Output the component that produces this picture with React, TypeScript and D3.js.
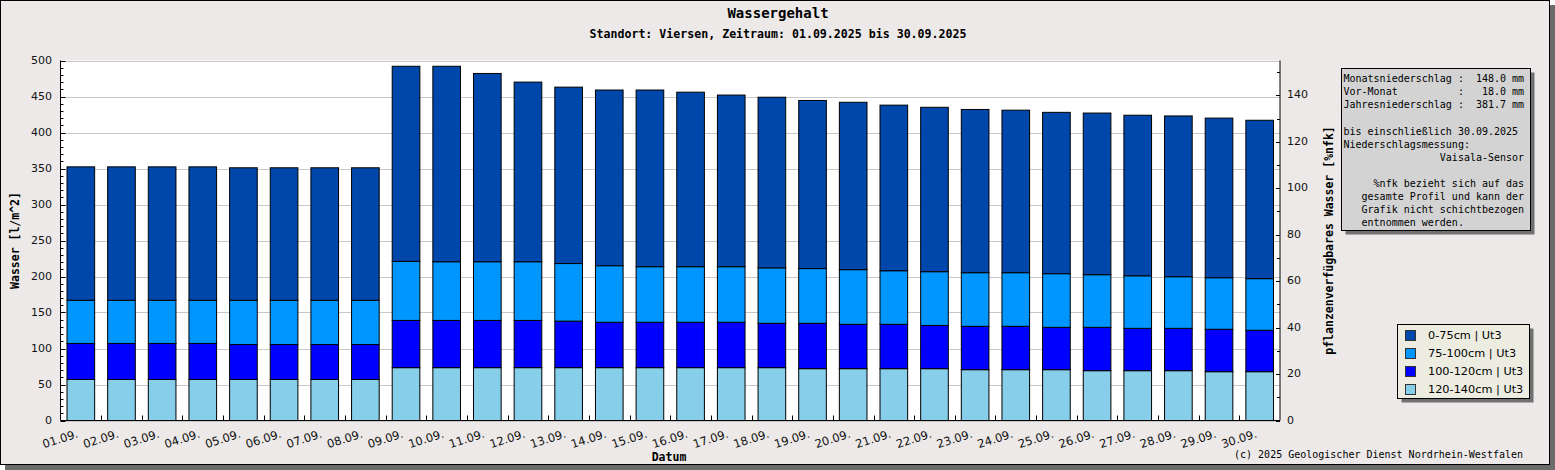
import React from 'react';
import * as d3 from 'd3';

// Tage im September 2025
const days = d3.range(1, 31).map(d => `${String(d).padStart(2, '0')}.09.`);

// Wassergehalt je Schicht in l/m^2
const layer0_75 = [
  185.3, 185.3, 185.3, 185.3, 184, 184, 184, 184, 271, 271.5,
  261.5, 249.5, 245, 244, 245.4, 242.4, 238.4, 237, 233.5, 232.5,
  230, 228.3, 226.7, 225.7, 224.1, 224.5, 223, 223.3, 221.7, 220
];
const layer75_100 = [
  60, 60, 60, 60, 61.5, 61.5, 61.5, 61.5, 82, 81.5,
  81.5, 81.5, 80, 78.6, 77.2, 77.2, 77.2, 77, 76, 75.9,
  74.4, 74.7, 74.5, 74.5, 74.5, 73.1, 73, 71.7, 71.6, 71.7
];
const layer100_120 = [
  50, 50, 50, 50, 48.5, 48.5, 48.5, 48.5, 65.6, 65.6,
  65.6, 65.6, 64.6, 63, 63, 63, 63, 61.6, 63, 61.6,
  61.6, 60, 60.2, 60.2, 58.8, 60.2, 58.8, 58.8, 58.9, 57.5
];
const layer120_140 = [
  57, 57, 57, 57, 57, 57, 57, 57, 73.4, 73.4,
  73.4, 73.4, 73.4, 73.4, 73.4, 73.4, 73.4, 73.4, 72, 72,
  72, 72, 70.6, 70.6, 70.6, 69.2, 69.2, 69.2, 67.8, 67.8
];

// Schichten von unten nach oben
const layerKeys = ['120-140cm | Ut3', '100-120cm | Ut3', '75-100cm | Ut3', '0-75cm | Ut3'];
const layerColors = ['#87CEEB', '#0000FF', '#0096FF', '#0047AB'];
const legendOrder = ['0-75cm | Ut3', '75-100cm | Ut3', '100-120cm | Ut3', '120-140cm | Ut3'];

const infoLines = [
  'Monatsniederschlag :  148.0 mm',
  'Vor-Monat          :   18.0 mm',
  'Jahresniederschlag :  381.7 mm',
  '',
  'bis einschließlich 30.09.2025',
  'Niederschlagsmessung:',
  '                Vaisala-Sensor',
  '',
  '     %nfk bezieht sich auf das',
  '   gesamte Profil und kann der',
  '   Grafik nicht schichtbezogen',
  '   entnommen werden.'
];

const W = 1555;
const H = 470;
const plot = { left: 60.5, right: 1280, top: 60.5, bottom: 420.5 };
const mono = '"DejaVu Sans Mono", monospace';
const sans = '"DejaVu Sans", sans-serif';

export default function App() {
  const table = days.map((day, i) => ({
    day,
    [layerKeys[0]]: layer120_140[i],
    [layerKeys[1]]: layer100_120[i],
    [layerKeys[2]]: layer75_100[i],
    [layerKeys[3]]: layer0_75[i]
  }));
  const series = d3.stack<any>().keys(layerKeys)(table);

  const x = d3.scaleBand<string>()
    .domain(days)
    .range([plot.left, plot.right])
    .paddingInner(0.32)
    .paddingOuter(0.16);
  const y = d3.scaleLinear().domain([0, 500]).range([plot.bottom, plot.top]);
  const yRight = d3.scaleLinear().domain([0, 155]).range([plot.bottom, plot.top]);

  const step = x.step();
  const gap = step * x.paddingInner();
  const color = d3.scaleOrdinal<string, string>().domain(layerKeys).range(layerColors);

  return (
    <svg width={W} height={H} style={{ position: 'absolute', left: 0, top: 0 }}>
      {/* Rahmen mit Schatten */}
      <rect x={5} y={5} width={1550} height={465} fill="#6b6b6b" />
      <rect x={0.5} y={0.5} width={1549} height={464} fill="#ECE9E8" stroke="#000" />

      {/* Titel */}
      <text x={778} y={14} textAnchor="middle" dominantBaseline="middle"
        fontFamily={mono} fontWeight="bold" fontSize={14} fill="#000">Wassergehalt</text>
      <text x={778} y={34} textAnchor="middle" dominantBaseline="middle"
        fontFamily={mono} fontWeight="bold" fontSize={11.6} fill="#000">
        Standort: Viersen, Zeitraum: 01.09.2025 bis 30.09.2025
      </text>

      {/* Plotfläche */}
      <rect x={plot.left} y={plot.top} width={plot.right - plot.left} height={plot.bottom - plot.top} fill="#fff" />
      {y.ticks(10).map(t => (
        <line key={'g' + t} x1={plot.left} x2={plot.right} y1={Math.round(y(t)) + 0.5} y2={Math.round(y(t)) + 0.5}
          stroke="#c8c8c8" />
      ))}

      {/* Balken */}
      {series.map(s => (
        <g key={s.key} fill={color(s.key)} stroke="#000" strokeWidth={1}>
          {s.map(d => (
            <rect key={d.data.day} x={x(d.data.day)} y={y(d[1])} width={x.bandwidth()} height={y(d[0]) - y(d[1])} />
          ))}
        </g>
      ))}

      {/* linke Achse */}
      <line x1={plot.left} x2={plot.left} y1={plot.top} y2={plot.bottom} stroke="#000" />
      {d3.range(0, 501, 10).map(t => (
        <line key={'lt' + t} x1={plot.left} x2={plot.left + (t % 50 === 0 ? 5 : 3)}
          y1={Math.round(y(t)) + 0.5} y2={Math.round(y(t)) + 0.5} stroke="#000" />
      ))}
      {y.ticks(10).map(t => (
        <text key={'ll' + t} x={52} y={y(t)} textAnchor="end" dominantBaseline="middle"
          fontFamily={sans} fontSize={11} fill="#111">{t}</text>
      ))}
      <text transform={`translate(15,${(plot.top + plot.bottom) / 2}) rotate(-90)`} textAnchor="middle"
        dominantBaseline="middle" fontFamily={mono} fontWeight="bold" fontSize={11.5} fill="#000">
        Wasser [l/m^2]
      </text>

      {/* rechte Achse */}
      <line x1={plot.right} x2={plot.right} y1={plot.top} y2={plot.bottom} stroke="#000" />
      {d3.range(0, 151, 10).map(t => (
        <line key={'rt' + t} x1={plot.right - (t % 20 === 0 ? 4 : 3)} x2={plot.right}
          y1={Math.round(yRight(t)) + 0.5} y2={Math.round(yRight(t)) + 0.5} stroke="#000" />
      ))}
      {d3.range(0, 141, 20).map(t => (
        <text key={'rl' + t} x={1287} y={yRight(t)} dominantBaseline="middle"
          fontFamily={sans} fontSize={11} fill="#111">{t}</text>
      ))}
      <text transform={`translate(1329,${(plot.top + plot.bottom) / 2}) rotate(-90)`} textAnchor="middle"
        dominantBaseline="middle" fontFamily={mono} fontWeight="bold" fontSize={11.5} fill="#000">
        pflanzenverfügbares Wasser [%nfk]
      </text>

      {/* untere Achse */}
      <line x1={plot.left} x2={plot.right} y1={plot.bottom} y2={plot.bottom} stroke="#000" />
      {days.slice(1).map(d => {
        const bx = Math.round((x(d) as number) - gap / 2) + 0.5;
        return <line key={'bt' + d} x1={bx} x2={bx} y1={plot.bottom} y2={plot.bottom - 5} stroke="#000" />;
      })}
      {days.map(d => {
        const cx = (x(d) as number) + x.bandwidth() / 2 - 2;
        return (
          <text key={'bl' + d} transform={`translate(${cx},437) rotate(-18)`} textAnchor="end"
            fontFamily={sans} fontSize={11.5} fill="#111">{d}</text>
        );
      })}
      <text x={669} y={457} textAnchor="middle" dominantBaseline="middle"
        fontFamily={mono} fontWeight="bold" fontSize={11.5} fill="#000">Datum</text>
      <text x={1523} y={455} textAnchor="end" dominantBaseline="middle"
        fontFamily={mono} fontSize={10} fill="#000">(c) 2025 Geologischer Dienst Nordrhein-Westfalen</text>

      {/* Info-Box */}
      <rect x={1345.5} y={72.5} width={189} height={162} fill="#707070" />
      <rect x={1341.5} y={68.5} width={189} height={162} fill="#D3D3D3" stroke="#000" />
      {infoLines.map((line, i) => (
        <text key={'i' + i} x={1343.5} y={79.3 + i * 13.05} dominantBaseline="middle"
          fontFamily={mono} fontSize={10} fill="#000" style={{ whiteSpace: 'pre' }}>{line}</text>
      ))}

      {/* Legende */}
      <rect x={1401.5} y={328.5} width={132} height={74} fill="#707070" />
      <rect x={1397.5} y={324.5} width={132} height={74} fill="#ECECE1" stroke="#000" />
      {legendOrder.map((k, i) => (
        <g key={'lg' + k}>
          <rect x={1405.5} y={330.5 + i * 18} width={10} height={10} fill={color(k)} stroke="#333" />
          <text x={1428} y={336 + i * 18} dominantBaseline="middle" fontFamily={sans} fontSize={11.3} fill="#000">{k}</text>
        </g>
      ))}
    </svg>
  );
}
